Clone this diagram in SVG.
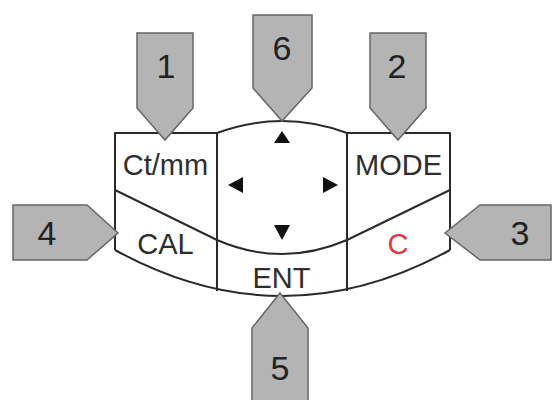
<svg xmlns="http://www.w3.org/2000/svg" width="553" height="400" viewBox="0 0 553 400">
<style>
.ln{fill:none;stroke:#2a2a2a;stroke-width:2;stroke-linejoin:round}
.key{font-family:"Liberation Sans",Arial,sans-serif;font-size:29px;fill:#2e2e2e;text-anchor:middle}
.red{fill:#e5373c}
.tri{fill:#111}
.call{fill:#b4b4b4;stroke:#666;stroke-width:1.5;stroke-linejoin:miter}
.num{font-family:"Liberation Sans",Arial,sans-serif;font-size:34px;fill:#222;text-anchor:middle}
</style>
<rect width="553" height="400" fill="#fff"/>
<g id="keypad">
<path class="ln" d="M115,250 L115,133 L217,133 M347,133 L450,133 L450,250"/>
<path class="ln" d="M217,133 Q282,109 347,133"/>
<path class="ln" d="M217,133 L217,291 M347,133 L347,291"/>
<path class="ln" d="M115,190 L217,240 Q282,268 347,240 L450,190"/>
<path class="ln" d="M115,250 Q282.5,342 450,250"/>
</g>
<g id="key-ctmm"><text class="key" x="165.5" y="175">Ct/mm</text></g>
<g id="key-mode"><text class="key" x="398.5" y="175">MODE</text></g>
<g id="key-cal"><text class="key" x="165.5" y="254">CAL</text></g>
<g id="key-c"><text class="key red" x="398" y="254">C</text></g>
<g id="key-ent"><text class="key" x="281.5" y="288">ENT</text></g>
<g id="key-arrows">
<polygon class="tri" points="282,131 274,143 290,143"/>
<polygon class="tri" points="228,185 243,177 243,193"/>
<polygon class="tri" points="338,185 323,177 323,193"/>
<polygon class="tri" points="274,225 290,225 282,240"/>
</g>
<g id="connectors">
<g id="callout-1"><polygon class="call" points="137,33 193,33 193,108 165,140 137,108"/><text class="num" x="166" y="78">1</text></g>
<g id="callout-6"><polygon class="call" points="253,15 312,15 312,88 282,121 253,88"/><text class="num" x="282" y="60">6</text></g>
<g id="callout-2"><polygon class="call" points="370,33 426,33 426,108 398,140 370,108"/><text class="num" x="397" y="78">2</text></g>
<g id="callout-4"><polygon class="call" points="13,205 87,205 118,233 87,260 13,260"/><text class="num" x="47" y="245">4</text></g>
<g id="callout-3"><polygon class="call" points="551,205 480,205 445,233 480,260 551,260"/><text class="num" x="520" y="245">3</text></g>
<g id="callout-5"><polygon class="call" points="280,293 308,328 308,402 252,402 252,328"/><text class="num" x="280" y="380">5</text></g>
</g>
</svg>
